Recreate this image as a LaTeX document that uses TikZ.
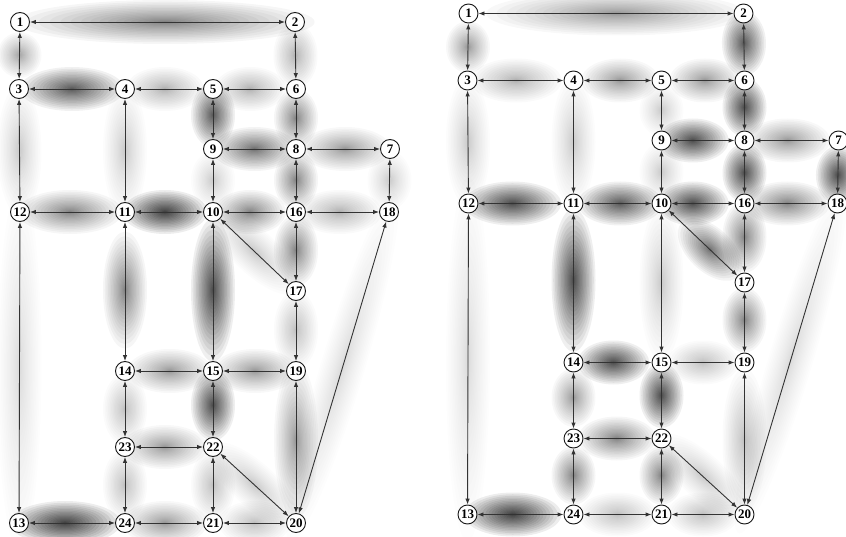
\documentclass[tikz,border=0pt]{standalone}
\usepackage{fontspec}
\setmainfont{Liberation Serif}
\usetikzlibrary{arrows.meta, shapes.geometric, backgrounds}

\begin{document}
\begin{tikzpicture}[x=1pt, y=-1pt,
    town/.style={circle, draw=black!90, fill=white, line width=0.9pt, minimum size=19pt, inner sep=0pt,
                 font=\fontsize{13}{13}\selectfont\bfseries},
    link/.style={{Latex[length=6pt,width=4.5pt]}-{Latex[length=6pt,width=4.5pt]}, draw=black!80, line width=0.9pt},
    blur/.style={ellipse, fill=black, draw=none, inner sep=0pt, sloped}]

    \useasboundingbox (0,0) rectangle (846,537);

    % --- Nodes (left network L, right network R) ---
    \foreach \g/\dx/\dy in {L/0/0, R/448.5/8.5} {
        \foreach \n/\x/\y in {1/20/22, 2/295/22, 3/19/89, 4/125/89, 5/213/89, 6/296/89,
                              7/390/149, 8/296/149, 9/213/149,
                              10/213/212, 11/125/212, 12/20/212, 16/296/212, 18/389/212,
                              17/296/291, 14/125/371, 15/213/371, 19/296/371,
                              23/125/447, 22/213/447,
                              13/19/523, 24/125/523, 21/213/523, 20/296/523} {
            \node[town] (\g\n) at (\x+\dx, \y-\dy) {\n};
        }
    }

    % --- Flow shadows, left ---
    \begin{scope}[on background layer]
    \foreach \a/\b/\p/\len/\dk [evaluate=\dk as \op using 0.7*\dk] in {1/2/0.53/230/0.05, 1/3/0.49/35/0.035, 2/6/0.5/50/0.03,
            3/4/0.5/80/0.08, 4/5/0.44/60/0.03, 5/6/0.43/55/0.03, 5/9/0.4/50/0.08,
            6/8/0.48/45/0.05, 9/8/0.5/65/0.06, 8/7/0.53/70/0.04, 3/12/0.5/100/0.015,
            4/11/0.5/100/0.015, 9/10/0.5/45/0.015, 8/16/0.49/45/0.05, 7/18/0.5/45/0.015,
            12/11/0.47/80/0.05, 11/10/0.44/65/0.1, 10/16/0.43/55/0.05, 16/18/0.46/65/0.03,
            10/17/0.5/90/0.015, 16/17/0.48/55/0.05, 10/15/0.49/110/0.09, 11/14/0.49/90/0.05,
            12/13/0.5/280/0.012, 17/19/0.48/60/0.02, 18/20/0.5/280/0.012, 14/15/0.51/65/0.04,
            15/19/0.51/65/0.04, 14/23/0.5/55/0.02, 15/22/0.43/55/0.09, 19/20/0.45/120/0.04,
            23/22/0.44/65/0.04, 22/20/0.5/90/0.015, 23/24/0.5/55/0.02, 22/21/0.5/55/0.02,
            13/24/0.42/85/0.1, 24/21/0.44/65/0.04, 21/20/0.5/55/0.02} {
        \foreach \k [evaluate=\k as \s using (\k/20)^1.6] in {1,...,20}
            \path (L\a) -- (L\b) node[blur, pos=\p, fill opacity=\op,
                minimum width=\s*\len*1.3, minimum height=\s*44] {};
    }

    % --- Flow shadows, right ---
    \foreach \a/\b/\p/\len/\dk [evaluate=\dk as \op using 0.7*\dk] in {1/2/0.54/200/0.04, 1/3/0.5/40/0.04, 2/6/0.42/50/0.08,
            3/4/0.45/70/0.03, 4/5/0.54/60/0.04, 5/6/0.53/55/0.04, 5/9/0.5/40/0.015,
            6/8/0.42/45/0.09, 9/8/0.34/55/0.09, 8/7/0.45/65/0.04, 3/12/0.5/100/0.015,
            4/11/0.5/100/0.015, 9/10/0.5/45/0.015, 8/16/0.52/45/0.09, 7/18/0.57/45/0.09,
            12/11/0.4/75/0.09, 11/10/0.54/65/0.08, 10/16/0.34/55/0.09, 16/18/0.45/65/0.05,
            10/17/0.6/60/0.06, 16/17/0.4/55/0.05, 11/14/0.48/110/0.09, 10/15/0.5/120/0.015,
            17/19/0.46/50/0.05, 14/15/0.44/55/0.09, 15/19/0.5/55/0.02, 14/23/0.45/45/0.04,
            15/22/0.41/50/0.09, 19/20/0.51/110/0.025, 23/22/0.49/60/0.05, 23/24/0.48/45/0.05,
            22/21/0.48/45/0.05, 13/24/0.41/75/0.1, 24/21/0.5/60/0.02, 22/20/0.5/90/0.015,
            21/20/0.5/55/0.02, 18/20/0.5/280/0.012, 12/13/0.5/280/0.012} {
        \foreach \k [evaluate=\k as \s using (\k/20)^1.6] in {1,...,20}
            \path (R\a) -- (R\b) node[blur, pos=\p, fill opacity=\op,
                minimum width=\s*\len*1.3, minimum height=\s*44] {};
    }
    \end{scope}

    % --- Links (two-way) ---
    \begin{scope}[on background layer]
    \foreach \g in {L, R} {
        \foreach \a/\b in {1/2, 1/3, 2/6, 3/4, 3/12, 4/5, 4/11, 5/6, 5/9, 6/8, 7/8, 7/18,
                           8/9, 8/16, 9/10, 10/11, 10/15, 10/16, 10/17, 11/12, 11/14, 12/13,
                           13/24, 14/15, 14/23, 15/19, 15/22, 16/17, 16/18, 17/19, 18/20,
                           19/20, 20/21, 20/22, 21/22, 21/24, 22/23, 23/24}
            \draw[link] (\g\a) -- (\g\b);
    }
    \end{scope}

\end{tikzpicture}
\end{document}
